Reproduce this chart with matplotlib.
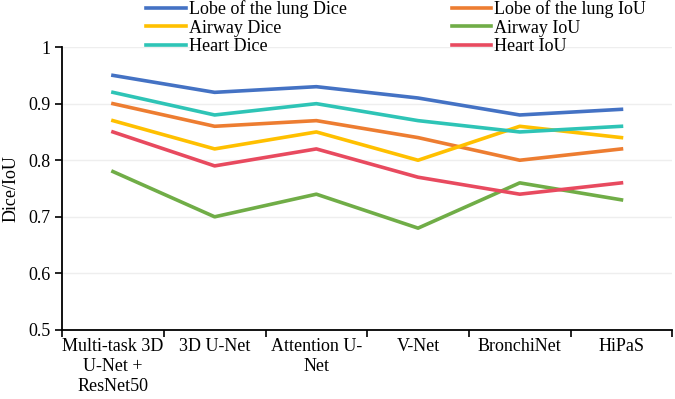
import matplotlib.pyplot as plt
from matplotlib.ticker import FixedLocator

plt.rcParams['font.family'] = ['Liberation Serif', 'DejaVu Serif']

methods = ["Multi-task 3D\nU-Net +\nResNet50", "3D U-Net", "Attention U-\nNet",
           "V-Net", "BronchiNet", "HiPaS"]

lobe_dice = [0.95, 0.92, 0.93, 0.91, 0.88, 0.89]
lobe_iou = [0.90, 0.86, 0.87, 0.84, 0.80, 0.82]
airway_dice = [0.87, 0.82, 0.85, 0.80, 0.86, 0.84]
airway_iou = [0.78, 0.70, 0.74, 0.68, 0.76, 0.73]
heart_dice = [0.92, 0.88, 0.90, 0.87, 0.85, 0.86]
heart_iou = [0.85, 0.79, 0.82, 0.77, 0.74, 0.76]

yticks = [0.5, 0.6, 0.7, 0.8, 0.9, 1.0]
ytick_labels = ["0.5", "0.6", "0.7", "0.8", "0.9", "1"]

fs = 13
fig = plt.figure(figsize=(6.75, 3.99), dpi=100)
ax = fig.add_axes([0.092, 0.173, 0.904, 0.709])

x = list(range(len(methods)))
lw = 2.6
l1, = ax.plot(x, lobe_dice, color='#4472C4', lw=lw, label='Lobe of the lung Dice')
l2, = ax.plot(x, lobe_iou, color='#ED7D31', lw=lw, label='Lobe of the lung IoU')
l3, = ax.plot(x, airway_dice, color='#FFC000', lw=lw, label='Airway Dice')
l4, = ax.plot(x, airway_iou, color='#70AD47', lw=lw, label='Airway IoU')
l5, = ax.plot(x, heart_dice, color='#2EC4B6', lw=lw, label='Heart Dice')
l6, = ax.plot(x, heart_iou, color='#E84A5F', lw=lw, label='Heart IoU')

ax.set_xlim(-0.5, len(methods) - 0.5)
ax.set_ylim(0.5, 1.0)
ax.set_yticks(yticks)
ax.set_yticklabels(ytick_labels, fontsize=fs)
ax.set_xticks(x)
ax.set_xticklabels(methods, fontsize=fs, linespacing=1.2)
ax.tick_params(axis='x', which='major', length=0, pad=6)
ax.xaxis.set_minor_locator(FixedLocator([i - 0.5 for i in range(len(methods) + 1)]))
ax.tick_params(axis='x', which='minor', length=5, width=1.2, color='black')
ax.tick_params(axis='y', length=5, width=1.2)
ax.grid(axis='y', color='#EEEEEE', lw=1)
ax.set_axisbelow(True)
for s in ['top', 'right']:
    ax.spines[s].set_visible(False)
for s in ['left', 'bottom']:
    ax.spines[s].set_linewidth(1.3)
ax.set_ylabel('Dice/IoU', fontsize=fs, labelpad=6)

fig.legend([l1, l3, l5, l2, l4, l6],
           [h.get_label() for h in [l1, l3, l5, l2, l4, l6]],
           ncol=2, loc='upper left', bbox_to_anchor=(0.217, 1.0),
           frameon=False, fontsize=fs, handlelength=2.2, handletextpad=0.15,
           labelspacing=0.1, columnspacing=5.8, borderpad=0, borderaxespad=0)

fig.savefig('out.png', dpi=100)
